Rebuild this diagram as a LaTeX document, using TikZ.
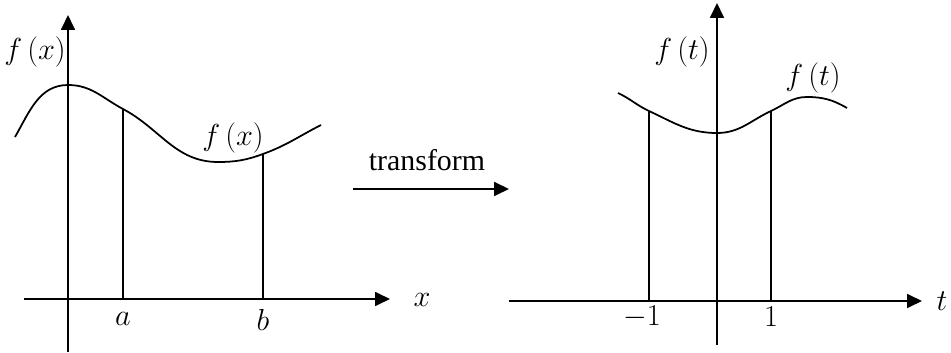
\documentclass[tikz,border=0pt]{standalone}
\usepackage{amsmath}
\usepackage{fontspec}
\setmainfont{Liberation Serif}
\usetikzlibrary{arrows.meta, positioning, calc}

\begin{document}
\begin{tikzpicture}[x=0.02cm,y=0.02cm,
        axis/.style={line width=1pt,-{Triangle[length=0.3cm,width=0.28cm]}},
        curve/.style={line width=1pt},
        bar/.style={line width=1pt},
        lbl/.style={font=\fontsize{17}{20}\selectfont,inner sep=0pt}
      ]
        \useasboundingbox (0,0) rectangle (951,352);
        % left plot
        \coordinate (ox0) at (24,53);
        \coordinate (ox1) at (390,53);
        \coordinate (oy0) at (68,0);
        \coordinate (oy1) at (68,337);
        \coordinate (pa) at (123,243);
        \coordinate (pb) at (263,198);
        \draw[axis] (ox0)--(ox1);
        \draw[axis] (oy0)--(oy1);
        \draw[curve] (15,215) to[out=60,in=180] (68,267)
          to[out=0,in=152] (pa) to[out=-28,in=180] (218,190)
          to[out=0,in=200] (pb) to[out=20,in=207] (321,227);
        \draw[bar] (pa)--(pa|-ox0);
        \draw[bar] (pb)--(pb|-ox0);
        \node[lbl] (fx) at (35,300) {$f\left(x\right)$};
        \node[lbl] (fxc) at (233,214) {$f\left(x\right)$};
        \node[lbl] (la) at (123,33) {$a$};
        \node[lbl] (lb) at (263,32) {$b$};
        \node[lbl] (lx) at (422,52) {$x$};
        % transform arrow
        \coordinate (tr0) at (353,163);
        \coordinate (tr1) at (509,163);
        \draw[axis] (tr0)--(tr1);
        \node[lbl] (trans) at (427,192) {transform};
        % right plot
        \coordinate (tx0) at (509,51);
        \coordinate (tx1) at (922,51);
        \coordinate (ty0) at (717,7);
        \coordinate (ty1) at (717,349);
        \coordinate (pm) at (649,241);
        \coordinate (pp) at (771,241);
        \draw[axis] (tx0)--(tx1);
        \draw[axis] (ty0)--(ty1);
        \draw[curve] (618,259) to[out=-25,in=155] (pm)
          to[out=-25,in=180] (717,219) to[out=0,in=205] (pp)
          to[out=25,in=180] (807,255) to[out=0,in=150] (847,244);
        \draw[bar] (pm)--(pm|-tx0);
        \draw[bar] (pp)--(pp|-tx0);
        \node[lbl] (ft) at (682,300) {$f\left(t\right)$};
        \node[lbl] (ftc) at (813,274) {$f\left(t\right)$};
        \node[lbl] (lm) at (642,35) {$-1$};
        \node[lbl] (lp) at (771,35) {$1$};
        \node[lbl] (lt) at (942,51) {$t$};
      \end{tikzpicture}
\end{document}
